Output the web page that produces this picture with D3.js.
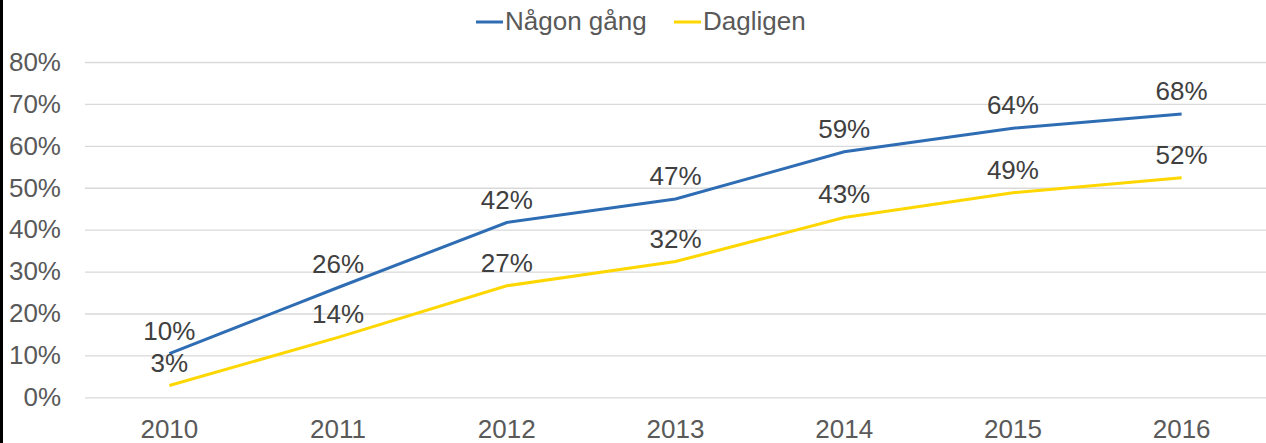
<html>
<head>
<meta charset="utf-8">
<title>Någon gång / Dagligen</title>
<style type="text/css">
    body { margin:0; background:#fff; }
    #chart { display:block; }
</style>
<script type="text/javascript" src="https://cdnjs.cloudflare.com/ajax/libs/d3/7.8.5/d3.min.js"></script>
</head>
<body>
<svg id="chart"></svg>
<script type="text/javascript">
var years = ["2010","2011","2012","2013","2014","2015","2016"];
var nagonGang = [0.104, 0.262, 0.417, 0.473, 0.586, 0.642, 0.676];
var dagligen = [0.028, 0.143, 0.266, 0.324, 0.429, 0.488, 0.524];
var seriesNames = ["Någon gång", "Dagligen"];
var seriesColors = ["#2e6db4", "#ffd700"];
var yTicks = [0, 0.1, 0.2, 0.3, 0.4, 0.5, 0.6, 0.7, 0.8];

var width = 1266, height = 443;
var font = "'Liberation Sans', Arial, sans-serif";
var svg = d3.select("#chart").attr("width", width).attr("height", height);

var x = d3.scaleBand().domain(years).range([85, 1266]);
var y = d3.scaleLinear().domain([0, 0.8]).range([397.3, 62]);
var pct = d3.format(".0%");

// left border
svg.append("rect").attr("x", 0).attr("y", 0).attr("width", 3).attr("height", height).attr("fill", "#000");

// gridlines + y labels
var yAxis = d3.axisLeft(y).tickValues(yTicks).tickFormat(pct).tickSize(-(1266 - 85)).tickPadding(24);
var gy = svg.append("g").attr("transform", "translate(85,0)").call(yAxis);
gy.select(".domain").remove();
gy.selectAll("line").attr("stroke", "#d9d9d9").attr("stroke-width", 1.3);
gy.selectAll("text").attr("fill", "#595959").style("font-family", font).style("font-size", "26px");

// x labels
var xAxis = d3.axisBottom(x).tickSize(0).tickPadding(14);
var gx = svg.append("g").attr("transform", "translate(0,406)").call(xAxis);
gx.select(".domain").remove();
gx.selectAll("text").attr("fill", "#595959").style("font-family", font).style("font-size", "26px");

var data = [nagonGang, dagligen];
var line = d3.line()
    .x(function(d, i){ return x(years[i]) + x.bandwidth() / 2; })
    .y(function(d){ return y(d); });

data.forEach(function(vals, s){
    svg.append("path").datum(vals)
        .attr("d", line)
        .attr("fill", "none")
        .attr("stroke", seriesColors[s])
        .attr("stroke-width", 3);
});

data.forEach(function(vals, s){
    svg.append("g").selectAll("text").data(vals).join("text")
        .attr("x", function(d, i){ return x(years[i]) + x.bandwidth() / 2; })
        .attr("y", function(d){ return y(d) - 23; })
        .attr("text-anchor", "middle")
        .attr("dominant-baseline", "central")
        .attr("fill", "#404040")
        .style("font-family", font)
        .style("font-size", "26px")
        .text(function(d){ return pct(d); });
});

// legend
var legendX = [476, 674];
var lg = svg.append("g");
seriesNames.forEach(function(name, s){
    lg.append("line")
        .attr("x1", legendX[s]).attr("x2", legendX[s] + 27)
        .attr("y1", 22).attr("y2", 22)
        .attr("stroke", seriesColors[s]).attr("stroke-width", 3);
    lg.append("text")
        .attr("x", legendX[s] + 29).attr("y", 21)
        .attr("dominant-baseline", "central")
        .attr("fill", "#595959")
        .style("font-family", font).style("font-size", "26px")
        .text(name);
});
</script>
</body>
</html>
